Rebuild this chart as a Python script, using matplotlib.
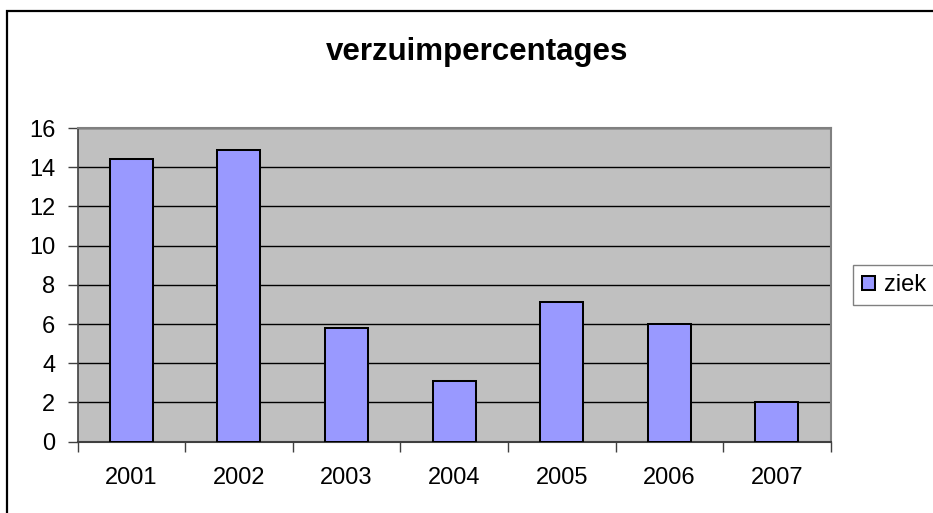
import matplotlib
matplotlib.use("Agg")
import matplotlib.pyplot as plt
from matplotlib.patches import Rectangle
import numpy as np

plt.rcParams['font.family'] = ['Liberation Sans', 'DejaVu Sans']

years = ["2001", "2002", "2003", "2004", "2005", "2006", "2007"]
ziek = [14.4, 14.9, 5.8, 3.1, 7.15, 6.0, 2.0]
yticks = [0, 2, 4, 6, 8, 10, 12, 14, 16]

W, H = 933, 513
fig = plt.figure(figsize=(W / 100, H / 100), dpi=100)
fig.patch.set_facecolor('white')

# outer chart frame (extends beyond right and bottom edges)
frame = Rectangle((7.5 / W, -0.1), 1.2, (H - 10.5) / H + 0.1, transform=fig.transFigure,
                  fill=False, edgecolor='black', linewidth=1.6, zorder=0)
fig.patches.append(frame)

ax = fig.add_axes([77.5 / W, 1 - 441.7 / H, (830.7 - 77.5) / W, (441.7 - 128) / H])
ax.set_facecolor('#C0C0C0')

x = np.arange(len(years))
ax.bar(x, ziek, width=0.4, color='#9999FF', edgecolor='black', linewidth=1.45,
       label='ziek', zorder=3)

ax.set_xlim(-0.5, len(years) - 0.5)
ax.set_ylim(0, 16)
ax.set_yticks(yticks)
ax.set_yticklabels([str(v) for v in yticks])
ax.yaxis.grid(True, color='black', linewidth=1.0)
ax.set_axisbelow(True)

# x: major ticks at boundaries (no labels), minor ticks at centres with labels
ax.set_xticks(np.arange(-0.5, len(years) + 0.5, 1.0))
ax.set_xticklabels([])
ax.set_xticks(x, minor=True)
ax.set_xticklabels(years, minor=True)
ax.tick_params(axis='x', which='major', direction='out', length=7, width=1, color='#404040')
ax.tick_params(axis='x', which='minor', length=0, pad=18, labelsize=17)
ax.tick_params(axis='y', direction='out', length=7, width=1, color='#404040', pad=9,
               labelsize=17)

for s in ['top', 'right']:
    ax.spines[s].set_color('#808080')
    ax.spines[s].set_linewidth(1.5)
ax.spines['left'].set_color('#404040')
ax.spines['bottom'].set_color('#404040')
ax.spines['left'].set_linewidth(1.2)
ax.spines['bottom'].set_linewidth(1.5)

fig.text(477 / W, 1 - 52 / H, "verzuimpercentages", ha='center', va='center',
         fontsize=22.5, fontweight='bold')

leg = fig.legend(loc='center left', bbox_to_anchor=(852.5 / W, 1 - 285 / H),
                 fontsize=17, frameon=True, fancybox=False, framealpha=1,
                 edgecolor='#808080', handlelength=0.55, handleheight=0.55,
                 handletextpad=0.4, borderpad=0.4, borderaxespad=0)
leg.get_frame().set_linewidth(1.0)

fig.savefig("out.png", dpi=100)
